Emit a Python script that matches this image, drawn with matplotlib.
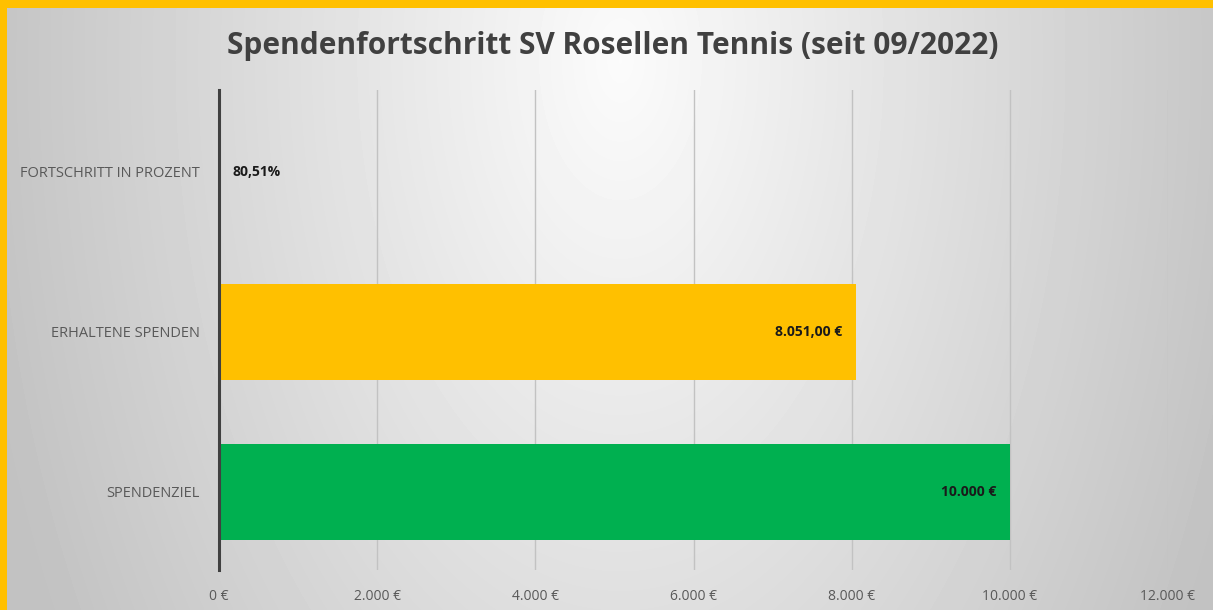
import numpy as np
import matplotlib
matplotlib.use('Agg')
import matplotlib.pyplot as plt

# data
categories = ['SPENDENZIEL', 'ERHALTENE SPENDEN', 'FORTSCHRITT IN PROZENT']
values = [10000, 8051, 0.8051]
value_labels = ['10.000 €', '8.051,00 €', '80,51%']
bar_colors = ['#00b050', '#ffc000', '#ffc000']
xticks = [0, 2000, 4000, 6000, 8000, 10000, 12000]
xtick_labels = ['0 €', '2.000 €', '4.000 €', '6.000 €', '8.000 €', '10.000 €', '12.000 €']
title = 'Spendenfortschritt SV Rosellen Tennis (seit 09/2022)'

plt.rcParams['font.family'] = ['Open Sans', 'DejaVu Sans']

fig = plt.figure(figsize=(12.13, 6.1), dpi=100, facecolor='#cccccc')

# radial grey background, brightest near the top middle
bg = fig.add_axes([0, 0, 1, 1], zorder=-10)
yy, xx = np.mgrid[0:610, 0:1213]
r = np.sqrt(((xx - 620) / 640.0) ** 2 + ((yy - 60) / 1100.0) ** 2)
shade = np.clip(0.985 - 0.22 * r, 0.76, 0.985)
bg.imshow(shade, cmap='gray', vmin=0, vmax=1, aspect='auto',
          extent=[0, 1213, 610, 0], interpolation='bilinear')
# yellow frame (only top and left edges visible)
bg.add_patch(plt.Rectangle((0, 0), 1213, 8, color='#ffc000', lw=0))
bg.add_patch(plt.Rectangle((0, 0), 7, 610, color='#ffc000', lw=0))
bg.set_xlim(0, 1213)
bg.set_ylim(610, 0)
bg.axis('off')

ax = fig.add_axes([219 / 1213, 1 - 570 / 610, (1168 - 219) / 1213, 480 / 610])
ax.patch.set_alpha(0)

ypos = np.arange(len(categories))
ax.barh(ypos, values, height=0.6, color=bar_colors, zorder=3)

for i, (v, lab) in enumerate(zip(values, value_labels)):
    if v > 1000:
        ax.text(v - 170, i, lab, ha='right', va='center', fontsize=10,
                fontweight='bold', color='#1a1a1a', zorder=4)
    else:
        ax.text(v + 170, i, lab, ha='left', va='center', fontsize=10,
                fontweight='bold', color='#1a1a1a', zorder=4)

ax.set_xlim(0, 12000)
ax.set_ylim(-0.49, 2.51)
ax.set_xticks(xticks)
ax.set_xticklabels(xtick_labels, fontsize=10, color='#595959')
ax.set_yticks(ypos)
ax.set_yticklabels(categories, fontsize=10.5, color='#595959')
ax.tick_params(axis='y', length=0, pad=14)
ax.tick_params(axis='x', length=0, pad=14)

ax.grid(axis='x', color='#c2c2c2', linewidth=1, zorder=0)
for s in ['top', 'right', 'bottom']:
    ax.spines[s].set_visible(False)
ax.spines['left'].set_color('#404040')
ax.spines['left'].set_linewidth(2.2)
ax.spines['left'].set_zorder(5)

fig.text(0.505, 1 - 46 / 610, title, ha='center', va='center', fontsize=21.5,
         fontweight='bold', color='#404040')

fig.savefig('out.png', dpi=100, facecolor=fig.get_facecolor())
